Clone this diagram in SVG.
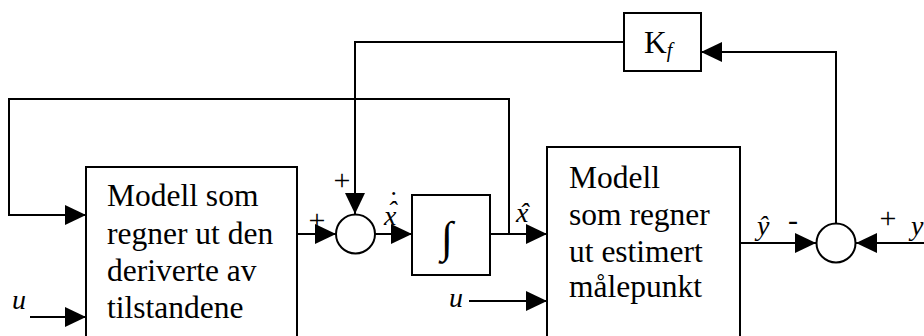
<svg xmlns="http://www.w3.org/2000/svg" width="924" height="336" viewBox="0 0 924 336">
<defs>
<marker id="arr" markerUnits="userSpaceOnUse" markerWidth="22" markerHeight="20" refX="21" refY="10" orient="auto">
<path d="M0,0 L21,10 L0,20 Z" fill="#000"/>
</marker>
<style>
.box{fill:#fff;stroke:#000;stroke-width:2}
.ar{fill:none;stroke:#000;stroke-width:2;marker-end:url(#arr)}
text{font-family:"Liberation Serif","Times New Roman",serif;fill:#000}
.t{font-size:31.5px}
.m{font-size:28px;font-style:italic}
.s{font-size:30px}
</style>
</defs>
<rect width="924" height="336" fill="#fff"/>
<g id="connectors">
<polyline class="ar" points="624,42 355,42 355,214"/>
<polyline class="ar" points="509,234 509,99 9,99 9,215 86,215"/>
<line class="ar" x1="30" y1="317" x2="86" y2="317"/>
<line class="ar" x1="297" y1="234" x2="336" y2="234"/>
<line class="ar" x1="375" y1="234" x2="412" y2="234"/>
<line class="ar" x1="490" y1="234" x2="547" y2="234"/>
<line class="ar" x1="469" y1="301" x2="547" y2="301"/>
<line class="ar" x1="740" y1="243" x2="816" y2="243"/>
<line class="ar" x1="924" y1="243" x2="856" y2="243"/>
<polyline class="ar" points="836,224 836,52 701,52"/>
</g>
<g id="kf">
<rect class="box" x="624" y="13" width="77" height="58"/>
<text class="t" x="644" y="53">K<tspan class="m" dy="4" style="font-size:20px">f</tspan></text>
</g>
<g id="model1">
<rect class="box" x="86" y="167" width="211" height="180"/>
<text class="t" x="107" y="206">Modell som</text>
<text class="t" x="107" y="244">regner ut den</text>
<text class="t" x="107" y="281">deriverte av</text>
<text class="t" x="107" y="318">tilstandene</text>
</g>
<g id="sum1">
<circle class="box" cx="355.5" cy="234" r="19.5"/>
<text class="s" x="342" y="190" text-anchor="middle">+</text>
<text class="s" x="317" y="230" text-anchor="middle">+</text>
</g>
<g id="integrator">
<rect class="box" x="412" y="195" width="78" height="80"/>
<text class="t" x="447" y="252" text-anchor="middle" style="font-size:44px">∫</text>
</g>
<g id="model2">
<rect class="box" x="547" y="147" width="193" height="200"/>
<text class="t" x="569" y="188">Modell</text>
<text class="t" x="569" y="225">som regner</text>
<text class="t" x="569" y="262">ut estimert</text>
<text class="t" x="569" y="297">målepunkt</text>
</g>
<g id="sum2">
<circle class="box" cx="836" cy="243" r="19.5"/>
<text class="s" x="793" y="230" text-anchor="middle">-</text>
<text class="s" x="888" y="228" text-anchor="middle">+</text>
</g>
<g id="labels">
<text class="m" x="12" y="309">u</text>
<text class="m" x="449" y="307">u</text>
<text class="m" x="384" y="225">x<tspan dx="-9.1" dy="-5">ˆ</tspan><tspan dx="-9.3" dy="-10">˙</tspan></text>
<text class="m" x="516" y="222">x<tspan dx="-9.1">ˆ</tspan></text>
<text class="m" x="757" y="235">ŷ</text>
<text class="m" x="911" y="235">y</text>
</g>
</svg>
